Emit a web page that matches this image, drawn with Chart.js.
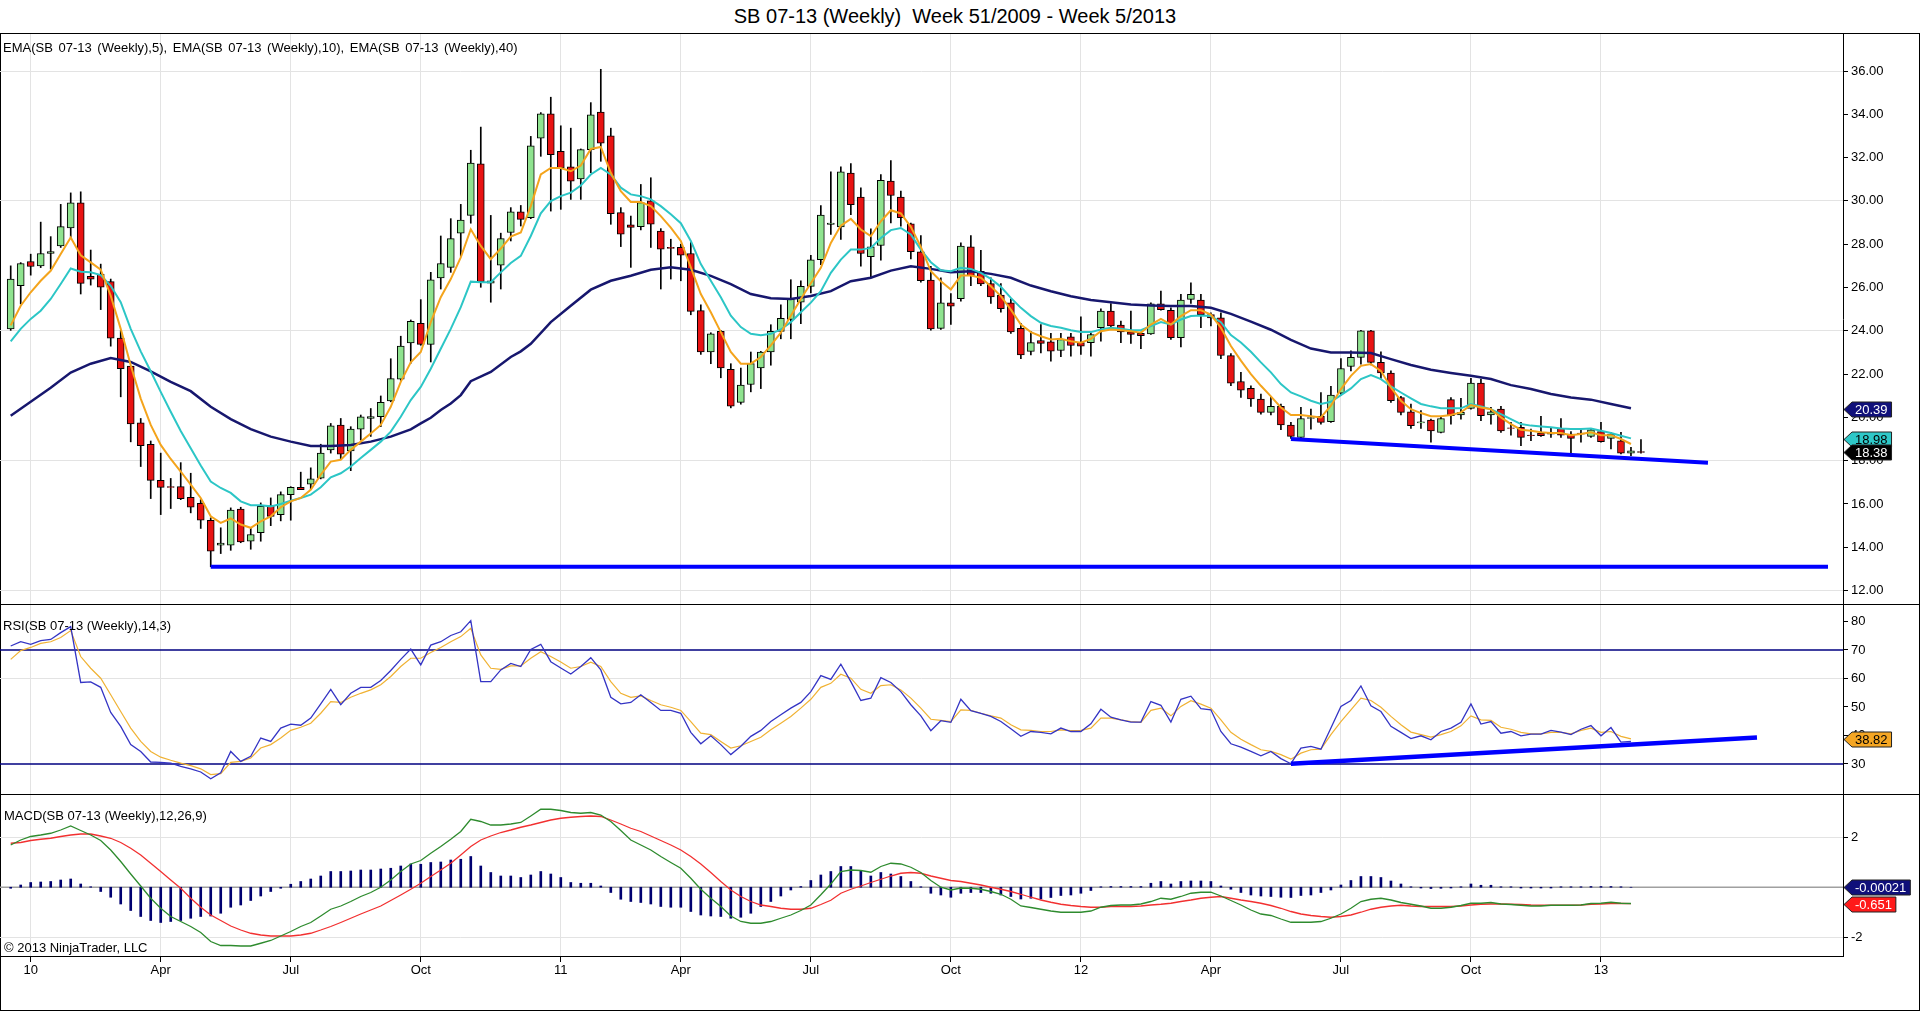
<!DOCTYPE html>
<html>
<head>
<meta charset="utf-8">
<title>SB 07-13 (Weekly)</title>
<script src="https://cdn.jsdelivr.net/npm/chart.js@4.4.0/dist/chart.umd.min.js"></script>
<style>
body{margin:0;background:#fff;width:1920px;height:1012px;overflow:hidden;position:relative;font-family:"Liberation Sans",Arial,sans-serif;}
canvas{position:absolute;left:0;}
.abs{position:absolute;}
.lbl{position:absolute;font-size:13px;line-height:15px;color:#000;white-space:pre;}
</style>
</head>
<body>
<div class="abs" style="left:0;top:5px;width:1910px;text-align:center;font-size:20px;line-height:22px;white-space:pre;">SB 07-13 (Weekly)  Week 51/2009 - Week 5/2013</div>
<div class="abs" style="left:0;top:33px;width:1918px;height:976px;border:1px solid #000;"></div>
<canvas id="price" width="1920" height="570" style="top:34px"></canvas>
<canvas id="rsi" width="1920" height="189" style="top:605px"></canvas>
<canvas id="macd" width="1920" height="189" style="top:795px"></canvas>
<div class="abs" style="left:0;top:604px;width:1920px;height:1px;background:#000"></div>
<div class="abs" style="left:0;top:794px;width:1920px;height:1px;background:#000"></div>
<div class="lbl" style="left:3px;top:40px;word-spacing:2px">EMA(SB 07-13 (Weekly),5), EMA(SB 07-13 (Weekly),10), EMA(SB 07-13 (Weekly),40)</div>
<div class="lbl" style="left:3px;top:618px">RSI(SB 07-13 (Weekly),14,3)</div>
<div class="lbl" style="left:4px;top:808px">MACD(SB 07-13 (Weekly),12,26,9)</div>
<div class="lbl" style="left:4px;top:940px">© 2013 NinjaTrader, LLC</div>
<script>
// weekly candles, week 51/2009 .. week 5/2013 (index = week number from start)
var open = [
24.09,26.08,27.20,27.00,27.57,27.92,28.75,29.91,26.52,26.61,
26.27,23.66,22.37,19.75,18.76,17.09,16.80,16.80,16.31,16.03,
15.25,14.10,14.10,15.77,14.28,14.67,15.93,15.51,16.43,16.77,
16.92,17.19,18.50,19.64,18.45,19.46,19.95,20.03,20.76,21.76,
23.44,24.35,23.37,26.44,26.93,28.51,29.33,31.71,26.20,27.03,
28.54,29.49,29.23,32.90,34.02,32.29,31.57,31.02,32.37,34.10,
33.01,29.46,28.89,28.81,30.00,28.61,27.85,27.85,27.57,24.93,
23.02,23.97,22.22,20.69,21.52,22.28,23.02,23.97,24.52,25.32,
26.05,27.29,28.91,28.80,31.29,30.18,27.42,27.94,30.92,30.18,
28.94,27.65,26.34,24.11,25.29,25.48,27.88,26.75,26.18,25.65,
25.29,24.11,23.05,23.55,23.49,23.09,23.72,23.45,23.45,24.14,
24.91,24.26,23.95,23.88,23.86,25.25,24.95,23.68,25.45,25.42,
24.75,24.60,22.85,21.66,21.34,20.85,20.23,20.51,19.65,19.08,
19.95,20.05,19.80,21.12,22.35,22.77,24.00,22.54,22.05,20.92,
20.26,19.74,19.88,19.31,20.82,20.11,20.42,21.58,20.11,20.38,
19.52,19.54,19.18,19.28,19.23,19.49,19.23,19.28,19.12,19.34,
19.03,18.92,18.35,18.42];
var high = [
27.00,27.15,27.54,29.02,28.35,29.84,30.37,30.42,27.73,27.08,
26.39,24.02,22.37,19.95,18.91,18.35,17.18,17.91,17.42,16.20,
15.36,14.90,15.82,15.85,14.90,16.05,16.28,16.56,16.80,17.47,
17.67,18.76,19.72,19.95,19.57,20.11,20.41,20.99,22.71,23.75,
24.50,25.44,26.70,28.38,29.18,29.84,32.34,33.41,29.33,28.51,
29.69,29.79,32.98,34.08,34.79,33.47,33.36,32.40,34.54,36.08,
33.36,29.69,29.30,30.76,31.07,28.72,28.23,28.00,28.08,25.20,
23.91,24.02,22.48,22.28,23.02,23.05,24.28,25.20,26.36,26.31,
27.49,29.78,31.34,31.57,31.72,30.60,28.71,31.22,31.86,30.45,
28.98,28.40,26.98,26.45,25.72,28.06,28.40,27.72,26.45,26.18,
25.48,24.34,23.98,24.29,23.88,23.88,23.88,24.65,23.91,25.02,
25.26,24.45,24.91,23.94,25.29,25.83,25.06,25.68,26.22,25.68,
24.83,24.83,22.95,22.08,21.46,21.08,20.97,20.62,19.77,20.46,
20.38,21.15,21.43,22.72,23.08,24.02,24.02,23.03,22.15,20.97,
20.62,20.31,19.92,20.00,20.92,20.88,21.80,21.77,20.46,20.51,
19.77,19.77,19.46,20.05,19.54,19.95,19.34,19.46,19.46,19.77,
19.31,19.31,18.62,18.97];
var low = [
24.02,25.24,26.57,26.92,26.85,27.85,28.31,25.70,26.11,24.98,
23.29,20.95,18.87,17.73,16.25,15.51,15.79,16.20,15.59,14.87,
13.10,13.71,13.86,14.21,13.91,14.28,15.00,15.22,15.25,16.66,
16.66,17.16,18.35,18.05,17.54,18.95,19.12,19.57,20.72,21.71,
22.50,23.33,22.56,25.93,26.70,27.43,28.97,26.01,25.32,25.93,
28.15,28.84,29.18,32.06,29.53,29.61,30.07,30.07,31.30,31.83,
28.92,27.89,26.93,28.66,27.85,25.93,26.39,26.31,24.74,22.91,
22.48,21.83,20.44,20.61,21.18,21.33,22.41,23.63,23.63,24.33,
25.75,27.06,28.45,28.22,29.37,26.98,26.49,27.26,28.98,28.83,
27.32,26.25,24.03,24.06,24.29,25.37,26.09,26.09,25.26,24.86,
23.88,22.71,22.88,22.98,22.60,22.80,22.83,22.91,22.83,23.52,
24.18,23.45,23.42,23.17,23.83,24.95,23.60,23.26,25.26,24.14,
24.22,22.71,21.46,20.92,20.51,20.15,20.11,19.43,19.03,19.03,
19.46,19.69,19.77,21.03,22.15,22.46,22.42,21.80,20.69,20.11,
19.49,19.49,18.85,19.28,19.69,19.92,20.38,19.85,19.69,19.31,
19.18,18.69,18.92,19.12,19.08,19.08,18.31,18.85,19.08,18.85,
18.54,18.31,18.23,18.35];
var close = [
26.39,27.11,26.97,27.57,27.66,28.81,29.91,26.19,26.39,26.01,
23.66,22.25,19.70,18.69,17.09,16.77,16.76,16.25,15.85,15.25,
13.82,14.19,15.72,14.25,14.59,15.89,15.43,16.43,16.77,16.66,
17.16,18.35,19.61,18.30,19.46,20.03,20.04,20.69,21.79,23.29,
24.44,23.37,26.36,27.11,28.26,29.12,31.75,26.27,26.31,28.26,
29.49,29.15,32.55,34.02,32.14,31.52,30.91,32.37,33.98,32.67,
29.41,28.46,28.77,29.92,28.92,27.77,27.81,27.49,24.90,23.02,
23.86,22.28,20.52,21.49,22.48,23.02,23.97,24.58,25.47,26.05,
27.28,29.35,28.98,31.34,29.83,27.57,27.88,30.95,30.25,29.22,
27.65,26.31,24.09,25.29,25.14,27.91,26.55,26.17,25.57,25.02,
23.95,22.89,23.45,23.42,23.06,23.60,23.32,23.29,23.83,24.91,
24.22,23.95,23.83,23.78,25.25,24.98,23.68,25.42,25.68,24.75,
24.60,22.86,21.58,21.26,20.85,20.23,20.51,19.65,19.12,19.95,
19.99,19.77,21.03,22.26,22.77,24.00,22.54,22.05,20.77,20.23,
19.62,19.80,19.38,19.95,20.08,20.23,21.58,20.08,20.26,19.38,
19.49,19.08,19.15,19.15,19.31,19.18,19.03,19.23,19.43,18.88,
19.23,18.35,18.45,18.38];

// moving averages
var ema5 = [
24.25,25.16,25.78,26.31,26.77,27.55,28.31,27.49,27.16,26.82,
25.62,24.09,22.41,20.87,19.65,18.73,18.08,17.50,16.89,16.28,
15.43,15.13,15.33,15.05,14.90,15.20,15.43,15.85,16.12,16.28,
16.66,17.35,17.96,18.04,18.50,18.88,19.26,19.65,20.49,21.64,
22.54,23.02,24.40,25.55,26.39,27.39,28.69,27.92,27.31,27.80,
28.35,28.54,29.76,31.22,31.52,31.52,31.37,31.63,32.40,32.49,
31.30,30.45,29.95,29.95,29.76,29.30,28.77,28.15,26.93,25.70,
24.86,23.94,23.02,22.48,22.48,22.79,23.33,23.91,24.70,25.47,
26.20,26.91,28.06,28.86,29.17,28.68,28.37,29.06,29.57,29.42,
28.80,27.88,26.75,26.29,25.91,26.55,26.55,26.45,26.06,25.60,
24.98,24.29,23.94,23.75,23.60,23.63,23.52,23.45,23.63,23.98,
24.06,24.03,23.98,23.91,24.29,24.55,24.29,24.68,24.95,24.95,
24.75,24.14,23.30,22.62,22.00,21.46,20.97,20.46,20.11,20.11,
20.05,20.00,20.54,21.31,21.92,22.38,22.46,22.15,21.38,20.77,
20.38,20.20,20.05,20.05,20.11,20.23,20.57,20.46,20.38,20.00,
19.69,19.43,19.38,19.31,19.28,19.28,19.18,19.23,19.31,19.18,
19.18,19.00,18.77];
var ema10 = [
23.51,24.09,24.55,24.93,25.47,26.16,26.88,26.73,26.70,26.57,
26.08,25.32,24.09,23.05,22.13,21.18,20.26,19.37,18.57,17.78,
17.04,16.74,16.51,16.12,15.94,15.94,15.89,16.00,16.15,16.28,
16.43,16.77,17.23,17.42,17.73,18.12,18.50,18.88,19.34,20.03,
20.80,21.41,22.25,23.17,24.09,25.09,26.27,26.24,26.24,26.70,
27.13,27.46,28.38,29.43,29.99,30.22,30.38,30.71,31.22,31.52,
31.22,30.61,30.30,30.22,30.07,29.76,29.38,28.97,28.15,27.08,
26.31,25.55,24.70,24.17,23.86,23.79,23.86,24.06,24.40,24.86,
25.30,25.83,26.68,27.29,27.75,27.75,27.83,28.29,28.65,28.75,
28.45,27.75,27.17,26.80,26.75,26.91,26.86,26.68,26.40,26.03,
25.52,25.06,24.68,24.37,24.22,24.14,24.03,23.94,23.94,24.06,
24.14,24.09,24.03,24.03,24.22,24.40,24.29,24.52,24.68,24.71,
24.68,24.40,23.80,23.46,23.03,22.54,22.08,21.54,21.15,20.97,
20.77,20.62,20.72,21.03,21.34,21.77,21.95,21.77,21.43,21.15,
20.88,20.62,20.51,20.42,20.42,20.42,20.62,20.51,20.38,20.15,
19.92,19.69,19.62,19.58,19.54,19.49,19.46,19.46,19.49,19.38,
19.28,19.15,19.03];
// read every second week
var ema40 = [
20.08,null,20.72,null,21.37,null,22.07,null,22.48,null,
22.74,null,22.56,null,22.13,null,21.64,null,21.21,null,
20.49,null,19.92,null,19.46,null,19.11,null,18.88,null,
18.68,null,18.68,null,18.73,null,18.88,null,19.11,null,
19.45,19.72,19.98,20.34,20.64,21.03,21.67,null,22.10,null,
22.79,23.05,23.40,null,24.40,null,25.16,null,25.90,null,
26.31,null,26.54,null,26.82,null,26.93,null,26.82,null,
26.54,null,26.16,null,25.70,null,25.50,null,25.47,null,
25.61,null,25.83,null,26.29,null,26.45,null,26.78,null,
26.98,null,26.86,null,26.71,null,26.75,null,26.63,null,
26.45,null,26.09,null,25.83,null,25.60,null,25.42,null,
25.32,null,25.22,null,25.17,null,25.14,null,25.14,null,
25.06,null,24.78,null,24.42,null,24.05,null,23.58,null,
23.18,null,23.00,null,23.00,null,22.97,null,22.69,null,
22.42,null,22.20,null,22.05,null,21.92,null,21.77,null,
21.49,null,21.31,null,21.08,null,20.92,null,20.82,null,
20.62,null,20.42];

var rsi = [
71.4,72.9,72.0,73.3,73.7,76.1,78.2,58.6,58.8,56.9,
48.1,43.2,36.8,34.4,30.7,30.6,30.3,29.2,28.3,27.2,
24.8,26.9,34.4,30.9,32.7,39.1,37.9,42.6,44.0,43.6,
46.1,51.1,56.2,50.8,54.8,56.9,56.9,59.3,62.8,66.7,
70.3,64.8,71.7,72.9,75.1,76.4,80.3,58.9,58.9,63.0,
65.3,64.2,70.2,72.0,65.9,63.7,61.6,64.2,67.3,63.0,
53.4,51.1,51.6,54.3,51.6,48.8,48.8,47.8,41.1,37.1,
39.9,36.8,33.3,36.2,39.7,41.8,44.9,47.3,49.6,51.6,
55.4,61.0,59.7,65.0,58.9,52.3,53.1,60.3,58.6,55.4,
50.8,46.9,41.7,45.2,44.6,52.7,48.7,47.8,46.7,44.9,
42.4,39.7,41.4,41.1,40.6,42.6,41.4,41.4,44.1,49.2,
46.4,45.5,44.7,44.7,51.9,50.6,44.7,52.7,53.8,49.4,
49.0,41.4,37.1,35.9,34.4,32.9,34.4,31.9,30.1,35.6,
36.2,35.2,42.6,50.2,52.3,57.4,50.4,48.4,43.2,41.1,
38.9,39.9,38.5,41.4,42.6,44.6,51.1,44.0,44.9,40.8,
41.4,39.9,40.5,40.5,41.8,41.2,40.3,42.2,43.5,39.9,
42.8,37.7,37.9];
var rsiAvg = [
66.7,69.8,70.9,72.3,72.9,74.4,76.8,67.7,63.6,60.1,
54.3,48.4,42.6,37.9,34.4,32.4,31.3,30.3,29.4,28.3,
26.3,26.6,30.6,30.9,32.1,35.6,36.8,39.1,41.8,42.9,
44.3,47.8,51.9,51.6,53.4,54.8,56.0,57.8,60.7,64.2,
67.1,67.1,69.1,70.9,72.9,74.7,77.6,68.3,63.6,63.2,
64.4,64.4,67.1,69.4,67.7,65.8,63.6,64.2,65.7,64.2,
58.9,54.8,53.4,53.9,52.3,50.8,49.9,48.8,44.9,40.8,
40.3,37.9,35.6,36.4,37.9,39.4,42.0,44.3,46.7,49.6,
52.7,56.9,58.3,61.5,60.1,56.2,54.8,57.5,57.8,56.0,
53.1,49.6,45.7,45.3,44.9,49.0,48.8,47.8,46.9,46.1,
43.8,42.0,41.8,41.4,41.4,42.0,41.7,41.8,42.6,46.1,
46.1,45.5,44.9,44.6,48.8,49.6,46.9,50.2,52.2,51.0,
49.6,45.5,41.1,38.7,36.8,35.0,34.4,33.3,31.7,33.8,
35.0,35.2,40.3,44.9,49.0,53.1,52.3,49.9,46.7,43.8,
41.2,40.3,39.4,40.3,41.4,43.4,46.9,45.5,45.3,42.9,
42.2,41.1,40.6,40.6,41.1,41.1,40.6,41.8,42.6,41.1,
41.4,39.7,38.82];

var macd = [
1.69,1.89,2.03,2.09,2.16,2.29,2.45,2.27,2.09,1.87,
1.49,1.03,0.53,0.05,-0.44,-0.84,-1.17,-1.37,-1.57,-1.81,
-2.17,-2.33,-2.33,-2.35,-2.35,-2.24,-2.13,-1.95,-1.77,-1.57,
-1.41,-1.15,-0.88,-0.75,-0.57,-0.37,-0.21,0.00,0.29,0.63,
0.93,1.07,1.36,1.63,1.92,2.23,2.72,2.63,2.49,2.49,
2.53,2.59,2.85,3.12,3.12,3.07,2.99,2.96,2.99,2.89,
2.63,2.27,1.89,1.69,1.49,1.23,0.99,0.76,0.36,-0.08,
-0.44,-0.77,-1.15,-1.37,-1.44,-1.44,-1.37,-1.24,-1.11,-0.93,
-0.71,-0.30,0.13,0.63,0.69,0.67,0.60,0.83,0.96,0.93,
0.80,0.59,0.27,0.00,-0.11,-0.03,-0.04,-0.08,-0.17,-0.28,
-0.48,-0.75,-0.81,-0.88,-0.95,-1.00,-1.00,-1.00,-0.95,-0.80,
-0.73,-0.71,-0.71,-0.67,-0.57,-0.44,-0.48,-0.37,-0.24,-0.20,
-0.20,-0.35,-0.53,-0.71,-0.91,-1.07,-1.13,-1.27,-1.40,-1.40,
-1.40,-1.37,-1.24,-1.07,-0.84,-0.57,-0.48,-0.44,-0.51,-0.61,
-0.68,-0.75,-0.84,-0.84,-0.80,-0.73,-0.64,-0.64,-0.61,-0.67,
-0.69,-0.72,-0.75,-0.75,-0.72,-0.72,-0.72,-0.71,-0.65,-0.64,
-0.60,-0.64,-0.65];
var macdAvg = [
1.76,1.79,1.87,1.92,1.96,2.03,2.09,2.13,2.13,2.05,
1.96,1.79,1.56,1.29,0.96,0.63,0.29,-0.04,-0.44,-0.80,
-1.11,-1.33,-1.55,-1.71,-1.84,-1.91,-1.95,-1.95,-1.95,-1.91,
-1.84,-1.71,-1.57,-1.41,-1.24,-1.07,-0.91,-0.75,-0.53,-0.31,
-0.08,0.16,0.43,0.69,0.96,1.29,1.63,1.89,2.05,2.19,
2.29,2.40,2.49,2.59,2.69,2.76,2.80,2.83,2.85,2.83,
2.69,2.53,2.36,2.23,2.05,1.87,1.69,1.49,1.23,0.93,
0.59,0.23,-0.11,-0.37,-0.57,-0.71,-0.77,-0.84,-0.88,-0.88,
-0.84,-0.69,-0.52,-0.24,-0.08,0.05,0.19,0.32,0.45,0.56,
0.59,0.56,0.45,0.36,0.27,0.23,0.16,0.09,0.00,-0.08,
-0.17,-0.28,-0.40,-0.51,-0.60,-0.68,-0.73,-0.77,-0.80,-0.80,
-0.77,-0.77,-0.77,-0.75,-0.71,-0.68,-0.64,-0.57,-0.51,-0.44,
-0.40,-0.37,-0.44,-0.51,-0.57,-0.64,-0.73,-0.84,-0.97,-1.07,
-1.13,-1.17,-1.20,-1.17,-1.11,-1.00,-0.88,-0.80,-0.75,-0.72,
-0.75,-0.77,-0.77,-0.77,-0.77,-0.75,-0.71,-0.68,-0.67,-0.67,
-0.68,-0.69,-0.71,-0.72,-0.72,-0.72,-0.72,-0.71,-0.68,-0.67,
-0.65,-0.65,-0.651];
var macdDiff = [
-0.04,0.09,0.19,0.21,0.23,0.29,0.33,0.13,0.02,-0.17,
-0.40,-0.67,-0.93,-1.17,-1.33,-1.41,-1.37,-1.33,-1.24,-1.17,
-1.15,-1.04,-0.80,-0.71,-0.53,-0.35,-0.17,-0.04,0.12,0.23,
0.33,0.45,0.63,0.63,0.65,0.69,0.69,0.73,0.76,0.85,
0.93,0.92,0.99,1.01,1.09,1.12,1.23,0.85,0.59,0.45,
0.45,0.39,0.49,0.63,0.53,0.39,0.19,0.16,0.16,0.05,
-0.21,-0.48,-0.57,-0.61,-0.67,-0.77,-0.80,-0.80,-0.97,-1.11,
-1.15,-1.17,-1.24,-1.20,-1.04,-0.77,-0.57,-0.35,-0.11,0.03,
0.27,0.49,0.63,0.83,0.83,0.65,0.45,0.59,0.53,0.43,
0.23,0.02,-0.24,-0.31,-0.40,-0.24,-0.21,-0.21,-0.24,-0.31,
-0.37,-0.47,-0.44,-0.47,-0.41,-0.33,-0.31,-0.24,-0.13,0.02,
0.03,0.03,0.03,0.03,0.16,0.23,0.13,0.23,0.25,0.25,
0.23,0.05,-0.08,-0.21,-0.31,-0.35,-0.37,-0.40,-0.41,-0.33,
-0.31,-0.21,-0.11,0.09,0.27,0.43,0.43,0.39,0.25,0.13,
0.02,-0.03,-0.05,-0.04,-0.03,0.02,0.13,0.08,0.08,0.02,
0.02,-0.03,-0.03,-0.03,-0.03,0.02,0.02,0.02,0.03,0.03,
0.03,0.02,-0.0002];

// hand drawn lines: [week, value] end points
var supportLine = [[20, 13.1], [181.7, 13.1]];
var priceTrend = [[128, 19.0], [169.7, 17.9]];
var rsiTrend = [[128, 30.1], [174.6, 39.3]];

var tickWeeks = [2, 15, 28, 41, 55, 67, 80, 94, 107, 120, 133, 146, 159];
var tickLabels = ["10", "Apr", "Jul", "Oct", "11", "Apr", "Jul", "Oct", "12", "Apr", "Jul", "Oct", "13"];

var FONT = '"Liberation Sans", Arial, sans-serif';
Chart.defaults.font.family = FONT;
Chart.defaults.font.size = 13;
Chart.defaults.color = '#000';

var X_MIN = -1.07, X_MAX = 183.2;
var GRID = '#e3e3e3';

function pts(arr) {
    return arr.map(function (v, i) { return { x: i, y: v }; });
}
function seg(p) {
    return p.map(function (q) { return { x: q[0], y: q[1] }; });
}
function flat(v) {
    return [{ x: X_MIN, y: v }, { x: X_MAX, y: v }];
}

function xScale(showLabels) {
    return {
        type: 'linear', min: X_MIN, max: X_MAX, offset: false,
        afterBuildTicks: function (s) { s.ticks = tickWeeks.map(function (w) { return { value: w }; }); },
        grid: { color: GRID, offset: false, drawTicks: showLabels, tickLength: 6, tickColor: '#000' },
        border: { display: showLabels, color: '#000' },
        ticks: {
            display: showLabels, autoSkip: false, maxRotation: 0, padding: 1,
            callback: function (v, i) { return tickLabels[i]; }
        },
        afterFit: function (s) {
            s.height = showLabels ? 28 : 0;
            s.paddingLeft = 0; s.paddingRight = 0;
        }
    };
}
function yScale(min, max, ticks, gridAt, fmt) {
    return {
        type: 'linear', position: 'right', min: min, max: max,
        afterBuildTicks: function (s) { s.ticks = ticks.map(function (v) { return { value: v }; }); },
        grid: {
            color: function (c) { return gridAt.indexOf(c.tick.value) >= 0 ? GRID : 'rgba(0,0,0,0)'; },
            tickColor: '#000', tickLength: 5
        },
        border: { display: true, color: '#000' },
        ticks: { padding: 3, callback: fmt },
        afterFit: function (s) {
            s.width = 77;
            s.paddingTop = 0; s.paddingBottom = 0;
        }
    };
}

var boxPlugin = {
    id: 'valueBoxes',
    afterDraw: function (chart, args, opts) {
        var ctx = chart.ctx, ys = chart.scales.y, x0 = chart.chartArea.right + 1;
        ctx.save();
        ctx.font = '13px ' + FONT;
        ctx.textBaseline = 'middle';
        (opts.items || []).forEach(function (it) {
            var y = Math.round(ys.getPixelForValue(it.v)) + 0.5;
            var w = ctx.measureText(it.t).width + 7, h = 15;
            ctx.beginPath();
            ctx.moveTo(x0, y);
            ctx.lineTo(x0 + 8, y - h / 2);
            ctx.lineTo(x0 + 8 + w, y - h / 2);
            ctx.lineTo(x0 + 8 + w, y + h / 2);
            ctx.lineTo(x0 + 8, y + h / 2);
            ctx.closePath();
            ctx.fillStyle = it.bg;
            ctx.fill();
            ctx.strokeStyle = '#222';
            ctx.lineWidth = 1;
            ctx.stroke();
            ctx.fillStyle = it.fg;
            ctx.fillText(it.t, x0 + 11, y + 1);
        });
        ctx.restore();
    }
};

function lineDs(data, color, width, order, gaps) {
    return {
        type: 'line', data: data, borderColor: color, borderWidth: width,
        pointRadius: 0, tension: 0, fill: false, order: order, spanGaps: !!gaps
    };
}

var common = {
    responsive: false, animation: false, devicePixelRatio: 1,
    layout: { padding: 0 },
    events: []
};

// ---- price panel
var wickData = low.map(function (l, i) { return { x: i, y: [l, high[i]] }; });
var bodyData = open.map(function (o, i) { return { x: i, y: [o, close[i]] }; });
var bodyColors = open.map(function (o, i) { return close[i] >= o ? '#8fe38f' : '#e81313'; });

new Chart(document.getElementById('price'), {
    type: 'bar',
    data: {
        datasets: [
            { type: 'bar', data: wickData, backgroundColor: '#000', barThickness: 1, grouped: false, order: 6 },
            { type: 'bar', data: bodyData, backgroundColor: bodyColors, borderColor: '#000', borderWidth: 1,
              borderSkipped: false, barThickness: 7, grouped: false, order: 5 },
            lineDs(pts(ema40), '#17176e', 2.5, 4, true),
            lineDs(pts(ema10), '#2cc6c6', 2, 3),
            lineDs(pts(ema5), '#f4a41c', 2, 2),
            lineDs(seg(supportLine), '#0000ff', 4, 1),
            lineDs(seg(priceTrend), '#0000ff', 4, 1)
        ]
    },
    options: Object.assign({}, common, {
        scales: {
            x: xScale(false),
            y: yScale(11.38, 37.71, [12, 14, 16, 18, 20, 22, 24, 26, 28, 30, 32, 34, 36], [12, 18, 24, 30, 36],
                function (v) { return v.toFixed(2); })
        },
        plugins: {
            legend: { display: false }, tooltip: { enabled: false },
            valueBoxes: { items: [
                { v: 20.39, t: '20.39', bg: '#10107a', fg: '#fff' },
                { v: 18.98, t: '18.98', bg: '#2ec8c8', fg: '#000' },
                { v: 18.38, t: '18.38', bg: '#000', fg: '#fff' }
            ] }
        }
    }),
    plugins: [boxPlugin]
});

// ---- RSI panel
new Chart(document.getElementById('rsi'), {
    type: 'line',
    data: {
        datasets: [
            lineDs(flat(70), '#000080', 1.5, 5),
            lineDs(flat(30), '#000080', 1.5, 5),
            lineDs(pts(rsiAvg), '#f0b233', 1.2, 3),
            lineDs(pts(rsi), '#3434c4', 1.3, 2),
            lineDs(seg(rsiTrend), '#0000ff', 4.5, 1)
        ]
    },
    options: Object.assign({}, common, {
        scales: {
            x: xScale(false),
            y: yScale(19.47, 85.79, [30, 40, 50, 60, 70, 80], [60], function (v) { return String(v); })
        },
        plugins: {
            legend: { display: false }, tooltip: { enabled: false },
            valueBoxes: { items: [{ v: 38.82, t: '38.82', bg: '#f5a623', fg: '#000' }] }
        }
    }),
    plugins: [boxPlugin]
});

// ---- MACD panel
new Chart(document.getElementById('macd'), {
    type: 'bar',
    data: {
        datasets: [
            lineDs(flat(0), '#a0a0a0', 1.5, 5),
            { type: 'bar', data: pts(macdDiff), backgroundColor: '#000070', barThickness: 2, grouped: false, order: 4 },
            lineDs(pts(macdAvg), '#f23030', 1.3, 3),
            lineDs(pts(macd), '#2e8b2e', 1.3, 2)
        ]
    },
    options: Object.assign({}, common, {
        scales: {
            x: xScale(true),
            y: yScale(-2.75, 3.69, [-2, 2], [-2, 2], function (v) { return String(v); })
        },
        plugins: {
            legend: { display: false }, tooltip: { enabled: false },
            valueBoxes: { items: [
                { v: -0.00021, t: '-0.00021', bg: '#10107a', fg: '#fff' },
                { v: -0.651, t: '-0.651', bg: '#ff1a1a', fg: '#fff' }
            ] }
        }
    }),
    plugins: [boxPlugin]
});
</script>
</body>
</html>
